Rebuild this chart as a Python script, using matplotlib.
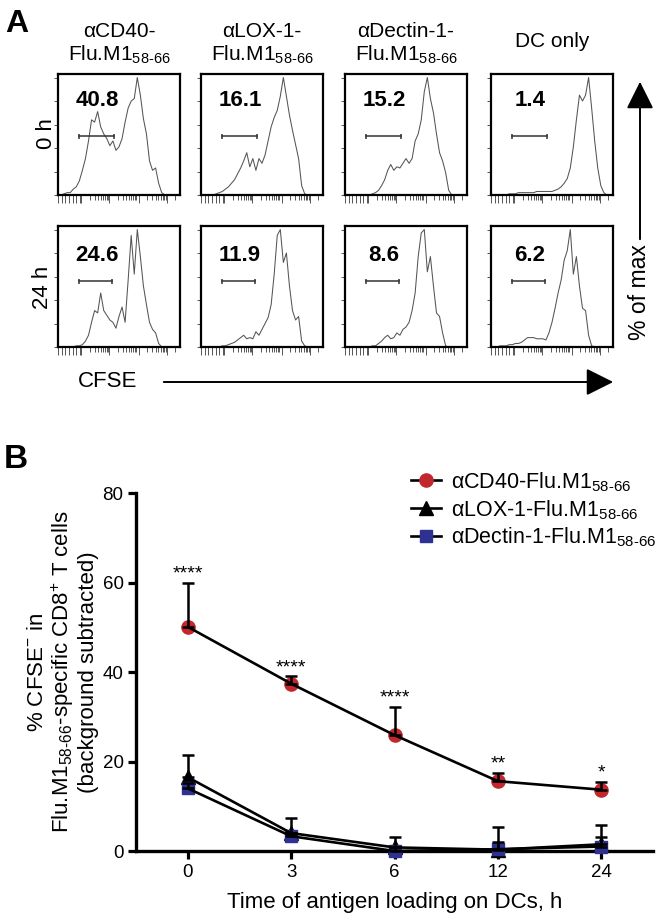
import numpy as np
import matplotlib
matplotlib.use('Agg')
import matplotlib.pyplot as plt
from matplotlib.lines import Line2D
from matplotlib.patches import FancyArrowPatch

plt.rcParams['font.family'] = ['Liberation Sans', 'DejaVu Sans']
plt.rcParams['mathtext.fontset'] = 'custom'
plt.rcParams['mathtext.rm'] = 'Liberation Sans'
plt.rcParams['mathtext.it'] = 'Liberation Sans:italic'
plt.rcParams['mathtext.bf'] = 'Liberation Sans:bold'

SUB = r'$_{58\text{-}66}$'

# --- Panel A data: CFSE histograms (% of max) ---
antigens = ['αCD40-', 'αLOX-1-', 'αDectin-1-', 'DC only']
timepoints = ['0 h', '24 h']
pct_neg = [['40.8', '16.1', '15.2', '1.4'],
           ['24.6', '11.9', '8.6', '6.2']]
cfse_pos = np.linspace(0, 1, 41)

h_cd40_0 = [0, 0, 1, 2, 2, 5, 7, 12, 21, 31, 46, 64, 62, 71, 58, 52, 48, 42, 46, 38, 41,
            48, 62, 74, 80, 82, 100, 85, 65, 52, 29, 21, 23, 10, 2, 0, 0, 0, 0, 0, 0]
h_lox_0 = [0, 0, 0, 0, 0, 1, 2, 3, 5, 7, 10, 13, 18, 23, 29, 36, 24, 31, 21, 31, 27,
           34, 46, 58, 66, 72, 84, 100, 84, 68, 55, 43, 31, 8, 1, 0, 0, 0, 0, 0, 0]
h_dectin_0 = [0, 0, 0, 0, 0, 0, 0, 0, 0, 1, 2, 4, 8, 13, 21, 26, 21, 24, 23, 27, 31,
              27, 31, 46, 52, 64, 88, 100, 82, 70, 52, 36, 29, 19, 4, 0, 0, 0, 0, 0, 0]
h_dc_0 = [0, 0, 0, 0, 0, 0, 1, 1, 1, 2, 2, 2, 2, 2, 2, 3, 3, 3, 3, 3, 3,
          4, 5, 7, 10, 14, 23, 41, 64, 85, 80, 85, 100, 74, 46, 23, 8, 2, 0, 0, 0]
h_cd40_24 = [0, 0, 0, 0, 0, 0, 1, 1, 2, 5, 10, 21, 31, 29, 46, 31, 27, 23, 21, 16, 26,
             34, 21, 57, 95, 62, 100, 77, 52, 36, 21, 15, 12, 3, 0, 0, 0, 0, 0, 0, 0]
h_lox_24 = [0, 0, 0, 0, 0, 0, 0, 1, 1, 2, 3, 4, 6, 8, 10, 7, 8, 7, 13, 10, 15,
            20, 25, 36, 62, 95, 100, 72, 80, 52, 31, 23, 26, 5, 1, 0, 0, 0, 0, 0, 0]
h_dectin_24 = [0, 0, 0, 0, 0, 0, 0, 0, 0, 1, 1, 3, 5, 8, 10, 7, 8, 12, 10, 15, 17,
               21, 31, 46, 77, 97, 100, 64, 77, 52, 29, 26, 12, 1, 0, 0, 0, 0, 0, 0, 0]
h_dc_24 = [0, 0, 0, 1, 1, 1, 2, 2, 3, 3, 4, 6, 8, 8, 8, 7, 7, 7, 6, 12, 21,
           33, 46, 57, 74, 82, 100, 62, 77, 52, 33, 31, 10, 1, 0, 0, 0, 0, 0, 0, 0]
hists = [[h_cd40_0, h_lox_0, h_dectin_0, h_dc_0],
         [h_cd40_24, h_lox_24, h_dectin_24, h_dc_24]]

gate_lo = [0.17, 0.17]
gate_hi = [0.46, 0.44]
gate_y = [50, 56]

# --- Panel B data ---
hours = ['0', '3', '6', '12', '24']
cd40_mean = [50.1, 37.4, 25.9, 15.6, 13.7]
cd40_err = [9.8, 1.6, 6.3, 1.8, 1.8]
lox_mean = [16.5, 4.0, 0.8, 0.3, 1.5]
lox_err = [5.0, 3.3, 2.4, 5.1, 4.4]
dectin_mean = [14.0, 3.3, 0.0, 0.4, 1.0]
dectin_err = [1.2, 0.8, 0.8, 1.6, 2.2]
stars = ['****', '****', '****', '**', '*']

RED = '#C1272D'
BLUE = '#2E3192'

W, H = 662, 922
fig = plt.figure(figsize=(W / 100, H / 100), dpi=100)

# overlay in pixel coordinates for labels and arrows
ov = fig.add_axes([0, 0, 1, 1], zorder=10)
ov.set_xlim(0, W)
ov.set_ylim(H, 0)
ov.axis('off')

col_left = [58, 201, 345, 491]
row_top = [74, 226]
bw, bh = 122, 121

# log-like CFSE tick marks under each histogram
lin_ticks = list(np.arange(0.0, 0.19, 0.03))
dec_starts = [0.19, 0.42, 0.66, 0.89]
minor_ticks = [d + 0.233 * np.log10(k) for d in dec_starts for k in range(2, 10)
               if d + 0.233 * np.log10(k) <= 1.0]

for r in range(2):
    for c in range(4):
        ax = fig.add_axes([col_left[c] / W, 1 - (row_top[r] + bh) / H, bw / W, bh / H])
        ax.plot(cfse_pos, hists[r][c], color='#555555', lw=0.75)
        ax.set_xlim(0, 1)
        ax.set_ylim(0, 103)
        lo, hi, gy = gate_lo[r], gate_hi[r], gate_y[r]
        ax.plot([lo, hi], [gy, gy], color='#333333', lw=1.1)
        ax.vlines([lo, hi], gy - 2.2, gy + 2.2, color='#333333', lw=1.1)
        ax.text(0.32, 76 if r == 0 else 73, pct_neg[r][c], ha='center', va='baseline',
                fontsize=16, fontweight='bold')
        for s in ax.spines.values():
            s.set_linewidth(1.6)
        ax.set_xticks(lin_ticks + dec_starts)
        ax.set_xticks(minor_ticks, minor=True)
        ax.set_yticks([0, 20, 40, 60, 80, 100])
        ax.tick_params(axis='both', which='both', direction='out', color='#555555',
                       width=0.7, labelbottom=False, labelleft=False)
        ax.tick_params(axis='x', which='major', length=6)
        ax.tick_params(axis='x', which='minor', length=3.5)
        ax.tick_params(axis='y', length=3)

# column titles
for c, name in enumerate(antigens):
    cx = col_left[c] + bw / 2
    if name == 'DC only':
        ov.text(cx, 47, name, ha='center', va='baseline', fontsize=15)
    else:
        ov.text(cx, 37, name, ha='center', va='baseline', fontsize=15)
        ov.text(cx, 61, 'Flu.M1' + SUB, ha='center', va='baseline', fontsize=15)

ov.text(47, 134, timepoints[0], rotation=90, ha='center', va='center', fontsize=16)
ov.text(43, 287, timepoints[1], rotation=90, ha='center', va='center', fontsize=16)

ov.text(78, 381, 'CFSE', ha='left', va='center', fontsize=16)
ov.add_patch(FancyArrowPatch((161, 382), (616, 382), arrowstyle='-|>,head_length=1.2,head_width=0.6',
                             mutation_scale=14, lw=1.4, color='black'))
ov.text(639, 292, '% of max', rotation=90, ha='center', va='center', fontsize=16.5)
ov.add_patch(FancyArrowPatch((640, 242), (640, 79), arrowstyle='-|>,head_length=1.2,head_width=0.6',
                             mutation_scale=14, lw=1.4, color='black'))

ov.text(5, 32, 'A', fontsize=23, fontweight='bold', ha='left', va='baseline')
ov.text(4, 468, 'B', fontsize=24, fontweight='bold', ha='left', va='baseline')

# --- Panel B ---
axb = fig.add_axes([136 / W, 1 - 851 / H, (653 - 136) / W, (851 - 493) / H])
x = np.arange(len(hours))
series = [
    (cd40_mean, cd40_err, 'o', RED, 9.5, 'αCD40-Flu.M1' + SUB),
    (lox_mean, lox_err, '^', 'black', 9.5, 'αLOX-1-Flu.M1' + SUB),
    (dectin_mean, dectin_err, 's', BLUE, 9, 'αDectin-1-Flu.M1' + SUB),
]
handles = []
for mean, err, mk, col, ms, lab in series:
    axb.errorbar(x, mean, yerr=[np.zeros(len(err)), err], fmt='none', ecolor='black',
                 elinewidth=1.8, capsize=4.5, capthick=1.8, zorder=4, clip_on=False)
    axb.plot(x, mean, ls='none', marker=mk, ms=ms, mfc=col, mec=col, zorder=3, clip_on=False)
    axb.plot(x, mean, color='black', lw=1.9, zorder=5, clip_on=False)
    handles.append(Line2D([0], [0], color='black', lw=1.9, marker=mk, ms=ms, mfc=col, mec=col, label=lab))

for i, s in enumerate(stars):
    axb.annotate(s, (x[i], cd40_mean[i] + cd40_err[i]), xytext=(0, 3), textcoords='offset points',
                 ha='center', va='baseline', fontsize=14)

axb.set_xlim(-0.5, 4.5)
axb.set_ylim(0, 80)
axb.set_xticks(x)
axb.set_xticklabels(hours)
axb.set_yticks([0, 20, 40, 60, 80])
axb.tick_params(axis='both', direction='out', length=6, width=2.3, labelsize=13.5, pad=3)
axb.spines['top'].set_visible(False)
axb.spines['right'].set_visible(False)
axb.spines['left'].set_linewidth(2.4)
axb.spines['bottom'].set_linewidth(2.4)
axb.set_xlabel('Time of antigen loading on DCs, h', fontsize=16, labelpad=8)
axb.set_ylabel('% CFSE$^{-}$ in\nFlu.M1' + SUB + '-specific CD8$^{+}$ T cells\n(background subtracted)',
               fontsize=16, linespacing=1.1)
axb.yaxis.set_label_coords(-0.072, 0.5)

axb.legend(handles=handles, loc='upper left', bbox_to_anchor=(411 / W, 1 - 470 / H),
           bbox_transform=fig.transFigure, frameon=False, fontsize=15.5, handlelength=1.4,
           handletextpad=0.45, labelspacing=0.2, borderpad=0, borderaxespad=0)

fig.savefig('out.png', dpi=100)
